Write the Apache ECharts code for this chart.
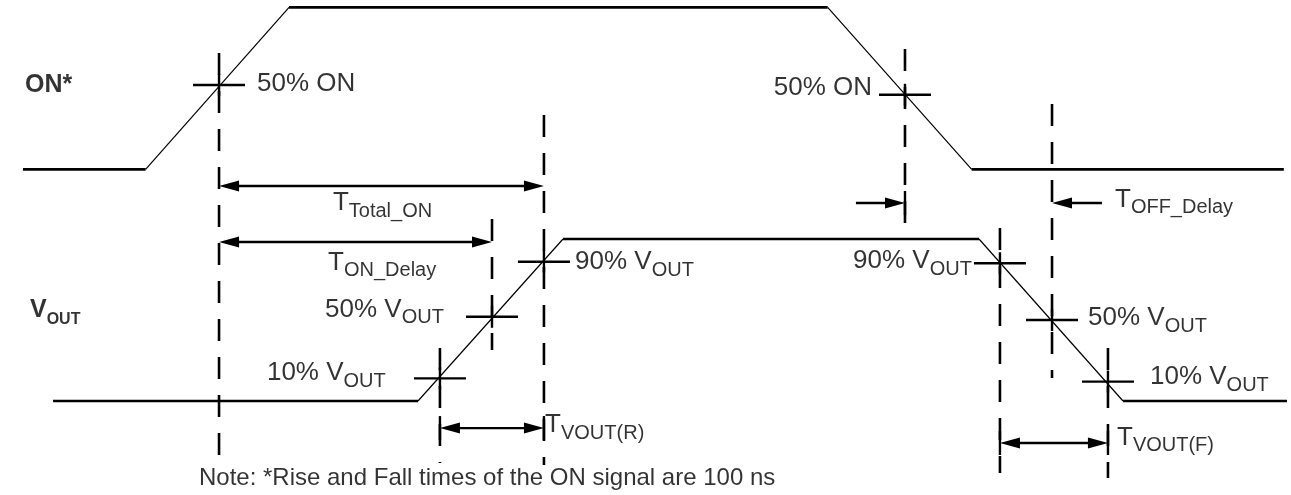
<!DOCTYPE html>
<html>
<head>
<meta charset="utf-8">
<style>
html,body{margin:0;padding:0;background:#fff;}
#chart{width:1291px;height:495px;}
</style>
<script src="https://cdn.jsdelivr.net/npm/echarts@6/dist/echarts.min.js"></script>
</head>
<body>
<div id="chart"></div>
<script>
// ---- Data (time axis in ns, level axis in signal units) ----
const onTimes   = [16, 101.5, 201.5, 577, 677.4, 895];
const onLevels  = [0, 0, 1, 1, 0, 0];
const voutTimes  = [37, 291.4, 392.5, 682.5, 782.9, 897.2];
const voutLevels = [0, 0, 1, 1, 0, 0];
const ON_BASE = 1.43; // vertical offset of the ON trace above VOUT

// measurement crosshairs
const onMarkTimes  = [152.7, 630.9];
const onMarkLevels = [0.52, 0.46];
const voutMarkTimes  = [306.7, 343.0, 379.2, 697.1, 733.4, 772.4];
const voutMarkLevels = [0.14, 0.52, 0.86, 0.85, 0.50, 0.12];

// dashed reference lines
const guideTimes   = [152.7, 379.2, 343.0, 306.7, 630.9, 733.4, 697.1, 772.4];
const guideTops    = [2.148, 1.765, 1.123, 0.327, 2.173, 1.833, 1.068, 0.327];
const guideBottoms = [-0.364, -0.395, 0.315, -0.383, 1.037, 0.142, -0.444, -0.475];

// timing arrows
const arrowFrom   = [152.7, 152.7, 306.7, 697.1, 596.7, 768.2];
const arrowTo     = [379.2, 343.0, 379.2, 772.4, 630.9, 733.4];
const arrowLevels = [1.327, 0.981, -0.167, -0.259, 1.222, 1.222];
const arrowBoth   = [1, 1, 1, 1, 0, 0];
const arrowTicks  = [0, 0, 1, 1, 1, 0];

// labels
const labelTexts = [
  '{mb|ON*}',
  '{mb|V}{sb|OUT}',
  '{m|50% ON}',
  '{m|50% ON}',
  '{m|T}{s|Total_ON}',
  '{m|T}{s|ON_Delay}',
  '{m|50% V}{s|OUT}',
  '{m|90% V}{s|OUT}',
  '{m|10% V}{s|OUT}',
  '{m|T}{s|VOUT(R)}',
  '{m|T}{s|OFF_Delay}',
  '{m|90% V}{s|OUT}',
  '{m|50% V}{s|OUT}',
  '{m|10% V}{s|OUT}',
  '{m|T}{s|VOUT(F)}',
  '{n|Note: *Rise and Fall times of the ON signal are 100 ns}'
];
const labelTimes  = [17.4, 20.9, 179.2, 607.9, 232.1, 228.7, 226.6, 400.9, 186.1, 380.0, 777.3, 594.7, 758.5, 801.7, 778.7, 138.7];
const labelLevels = [1.951, 0.562, 1.957, 1.932, 1.222, 0.852, 0.562, 0.858, 0.173, -0.148, 1.241, 0.864, 0.512, 0.148, -0.228, -0.475];
const labelAligns = ['left','left','left','right','left','left','left','left','left','left','left','left','left','left','left','left'];

// ---- Build ----
const FONT = "'Liberation Sans', Arial, Helvetica, sans-serif";
const INK = '#000';

function segments(times, levels, base) {
  const out = [];
  for (let i = 0; i < times.length - 1; i++) {
    out.push([times[i], levels[i] + base, times[i + 1], levels[i + 1] + base]);
  }
  return out;
}
const waveSegs = segments(onTimes, onLevels, ON_BASE).concat(segments(voutTimes, voutLevels, 0));

const marks = onMarkTimes.map((t, i) => [t, onMarkLevels[i] + ON_BASE])
  .concat(voutMarkTimes.map((t, i) => [t, voutMarkLevels[i]]));

const guides = guideTimes.map((t, i) => [t, guideTops[i], guideBottoms[i]]);
const arrows = arrowFrom.map((f, i) => [f, arrowTo[i], arrowLevels[i], arrowBoth[i], arrowTicks[i]]);

function line(x1, y1, x2, y2, w, dash) {
  return {
    type: 'line',
    shape: { x1: x1, y1: y1, x2: x2, y2: y2 },
    style: { stroke: INK, lineWidth: w, lineDash: dash || null, lineCap: 'butt', fill: null }
  };
}

const chart = echarts.init(document.getElementById('chart'), null, { renderer: 'canvas' });
chart.setOption({
  animation: false,
  backgroundColor: '#fff',
  grid: { left: 0, right: 0, top: 0, bottom: 0 },
  xAxis: { type: 'value', min: 0, max: 900, show: false },
  yAxis: { type: 'value', min: -0.58, max: 2.475, show: false },
  series: [
    {
      type: 'custom', clip: false, silent: true,
      data: waveSegs,
      renderItem: function (params, api) {
        const a = api.coord([api.value(0), api.value(1)]);
        const b = api.coord([api.value(2), api.value(3)]);
        const flat = api.value(1) === api.value(3);
        return line(a[0], a[1], b[0], b[1], flat ? 2.7 : 1.2);
      }
    },
    {
      type: 'custom', clip: false, silent: true,
      data: guides,
      renderItem: function (params, api) {
        const a = api.coord([api.value(0), api.value(1)]);
        const b = api.coord([api.value(0), api.value(2)]);
        return line(a[0], a[1], b[0], b[1], 2.6, [22, 16]);
      }
    },
    {
      type: 'custom', clip: false, silent: true,
      data: marks,
      renderItem: function (params, api) {
        const c = api.coord([api.value(0), api.value(1)]);
        return {
          type: 'group',
          children: [
            line(c[0] - 26, c[1], c[0] + 26, c[1], 2.4),
            line(c[0], c[1] - 11, c[0], c[1] + 11, 2.4)
          ]
        };
      }
    },
    {
      type: 'custom', clip: false, silent: true,
      data: arrows,
      renderItem: function (params, api) {
        const a = api.coord([api.value(0), api.value(2)]);
        const b = api.coord([api.value(1), api.value(2)]);
        const both = api.value(3) === 1;
        const ticks = api.value(4) === 1;
        const dir = b[0] > a[0] ? 1 : -1;
        const HL = 20, HW = 5.5, y = a[1];
        const children = [];
        const sx = both ? a[0] + dir * HL * 0.5 : a[0];
        const ex = b[0] - dir * HL * 0.5;
        children.push(line(sx, y, ex, y, 2.4));
        children.push({
          type: 'polygon',
          shape: { points: [[b[0], y], [b[0] - dir * HL, y - HW], [b[0] - dir * HL, y + HW]] },
          style: { fill: INK }
        });
        if (both) {
          children.push({
            type: 'polygon',
            shape: { points: [[a[0], y], [a[0] + dir * HL, y - HW], [a[0] + dir * HL, y + HW]] },
            style: { fill: INK }
          });
        }
        if (ticks) {
          children.push(line(b[0], y - 12, b[0], y + 12, 2.4));
          if (both) children.push(line(a[0], y - 12, a[0], y + 12, 2.4));
        }
        return { type: 'group', children: children };
      }
    },
    {
      type: 'scatter', silent: true,
      symbol: 'circle', symbolSize: 1,
      itemStyle: { color: 'rgba(0,0,0,0)' },
      emphasis: { disabled: true },
      label: {
        show: true,
        position: 'inside',
        verticalAlign: 'middle',
        color: INK,
        rich: {
          m:  { fontFamily: FONT, fontSize: 26, color: INK, lineHeight: 36 },
          s:  { fontFamily: FONT, fontSize: 20, color: INK, lineHeight: 22, verticalAlign: 'bottom' },
          mb: { fontFamily: FONT, fontSize: 25, fontWeight: 'bold', color: INK, lineHeight: 36 },
          sb: { fontFamily: FONT, fontSize: 16, fontWeight: 'bold', color: INK, lineHeight: 18, verticalAlign: 'bottom' },
          n:  { fontFamily: FONT, fontSize: 24, color: INK, lineHeight: 30 }
        }
      },
      data: labelTexts.map((txt, i) => ({
        value: [labelTimes[i], labelLevels[i]],
        label: { formatter: txt, align: labelAligns[i] }
      }))
    }
  ]
});
</script>
</body>
</html>
